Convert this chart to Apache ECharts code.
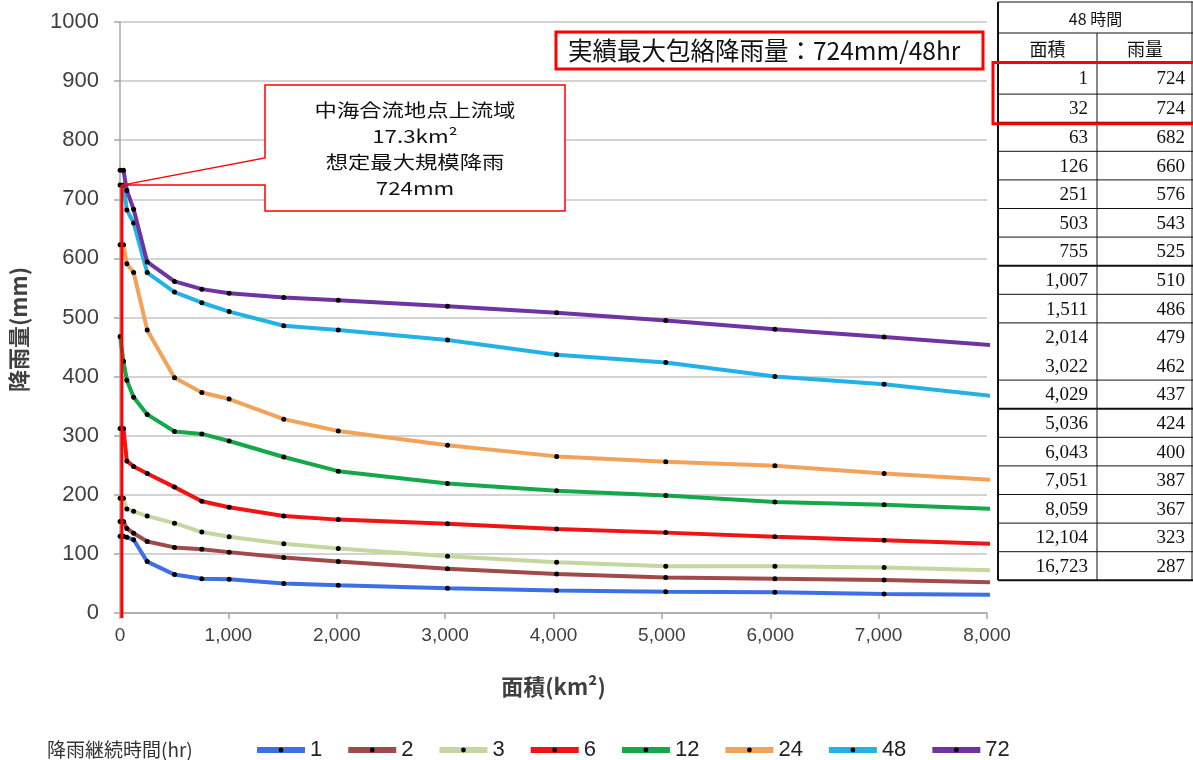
<!DOCTYPE html>
<html>
<head>
<meta charset="utf-8">
<script src="https://cdn.jsdelivr.net/npm/echarts@6/dist/echarts.min.js"></script>
<style>
  html, body { margin: 0; padding: 0; background: #fff; }
  #main { width: 1193px; height: 760px; }
</style>
</head>
<body>
<div id="main"></div>
<script>
// Catchment area (km2) at which each depth-area curve is sampled
const areas = [1, 32, 63, 126, 251, 503, 755, 1007, 1511, 2014, 3022, 4029, 5036, 6043, 7051, 8059];

// Rainfall depth (mm) per duration
const rain1  = [130, 130, 128, 124, 87, 65, 58, 57, 50, 47, 42, 38, 36, 35, 32, 31];
const rain2  = [155, 155, 143, 135, 121, 111, 108, 103, 94, 87, 75, 66, 60, 58, 56, 52];
const rain3  = [194, 194, 176, 172, 164, 152, 137, 129, 117, 109, 96, 86, 79, 79, 77, 72];
const rain6  = [312, 312, 257, 248, 236, 213, 189, 179, 164, 158, 151, 142, 136, 129, 123, 117];
const rain12 = [468, 426, 394, 365, 336, 307, 303, 291, 264, 240, 219, 207, 199, 188, 183, 176];
const rain24 = [623, 623, 591, 576, 479, 398, 373, 362, 328, 308, 284, 265, 256, 249, 236, 225];
const rain72 = [749, 749, 715, 683, 594, 561, 548, 541, 534, 529, 519, 508, 495, 480, 467, 453];

// 48-hour table (also drives the 48-hour curve)
const tableAreas  = [1, 32, 63, 126, 251, 503, 755, 1007, 1511, 2014, 3022, 4029, 5036, 6043, 7051, 8059, 12104, 16723];
const tableRain48 = [724, 724, 682, 660, 576, 543, 525, 510, 486, 479, 462, 437, 424, 400, 387, 367, 323, 287];

const durations = ['1', '2', '3', '6', '12', '24', '48', '72'];
const colors = ['#3d6fe6', '#a04a4a', '#c4d79e', '#f01414', '#14a84a', '#f3a25a', '#22b2e6', '#7033a2'];

// Design point of the upstream catchment
const pointArea = 17.3;
const pointRain = 724;

const xTicks = [0, 1000, 2000, 3000, 4000, 5000, 6000, 7000, 8000];

const curves = [rain1, rain2, rain3, rain6, rain12, rain24, null, rain72];

const chart = echarts.init(document.getElementById('main'));

const sans = "'Liberation Sans', 'Noto Sans CJK JP', sans-serif";
const cjk = "'Noto Sans CJK JP', 'Liberation Sans', sans-serif";
const serif = "'Liberation Serif', 'DejaVu Serif', serif";

const series = durations.map((d, i) => {
  const data = curves[i]
    ? areas.map((a, k) => [a, curves[i][k]])
    : tableAreas.map((a, k) => [a, tableRain48[k]]);
  return {
    name: d,
    type: 'line',
    data: data,
    symbol: 'circle',
    symbolSize: 5,
    showSymbol: true,
    clip: true,
    lineStyle: { color: colors[i], width: 4 },
    itemStyle: { color: '#000' },
    emphasis: { disabled: true },
    z: 2 + i
  };
});

chart.setOption({
  animation: false,
  grid: { left: 119, top: 22, width: 868, height: 591 },
  title: {
    text: '降雨継続時間(hr)',
    left: 42,
    top: 735,
    textStyle: { fontFamily: cjk, fontSize: 19, fontWeight: 'normal', color: '#333' }
  },
  legend: {
    left: 249,
    top: 734,
    itemWidth: 48,
    itemHeight: 6,
    itemGap: 23,
    lineStyle: { width: 6 },
    textStyle: { fontFamily: sans, fontSize: 22, color: '#222' },
    data: durations
  },
  xAxis: {
    type: 'value',
    min: 0,
    max: 8000,
    interval: 1000,
    name: '面積(km²)',
    nameLocation: 'middle',
    nameGap: 63,
    nameTextStyle: { fontFamily: cjk, fontSize: 22, fontWeight: 'bold', color: '#404040' },
    axisLine: { show: true, lineStyle: { color: '#a6a6a6', width: 1.5 } },
    axisTick: { show: true, length: 6, lineStyle: { color: '#a6a6a6', width: 1.5 } },
    axisLabel: {
      margin: 13,
      fontFamily: sans,
      fontSize: 19,
      color: '#404040',
      formatter: v => xTicks.includes(v) ? v.toLocaleString('en-US') : ''
    },
    splitLine: { show: false }
  },
  yAxis: {
    type: 'value',
    min: 0,
    max: 1000,
    interval: 100,
    name: '降雨量(mm)',
    nameLocation: 'middle',
    nameRotate: 90,
    nameGap: 90,
    nameTextStyle: { fontFamily: cjk, fontSize: 22, fontWeight: 'bold', color: '#404040', padding: [0, 24, 0, 0] },
    axisLine: { show: true, lineStyle: { color: '#a6a6a6', width: 1.5 } },
    axisTick: { show: true, length: 6, lineStyle: { color: '#a6a6a6', width: 1.5 } },
    axisLabel: { margin: 21, fontFamily: sans, fontSize: 22, color: '#404040', formatter: v => String(v) },
    splitLine: { show: true, lineStyle: { color: '#c4c4c4', width: 1.5 } }
  },
  series: series
});

// ---- annotations: design point call-out, envelope caption and 48-hour table ----
const tip = chart.convertToPixel({ gridIndex: 0 }, [pointArea, pointRain]);
const foot = chart.convertToPixel({ gridIndex: 0 }, [pointArea, 0]);

const box = { l: 265, t: 85, r: 565, b: 211, wedgeTop: 158 };

const graphics = [];

// vertical marker from the design point to the axis
graphics.push({
  type: 'line', z: 50,
  shape: { x1: tip[0], y1: tip[1], x2: foot[0], y2: foot[1] + 5 },
  style: { stroke: '#ff0000', lineWidth: 3 }
});

// call-out balloon
graphics.push({
  type: 'polygon', z: 49,
  shape: {
    points: [
      [box.l, box.t], [box.r, box.t], [box.r, box.b], [box.l, box.b],
      [box.l, tip[1]], [tip[0], tip[1]], [box.l, box.wedgeTop]
    ]
  },
  style: { fill: '#fff', stroke: '#ff0000', lineWidth: 1.5 }
});
graphics.push({
  type: 'text', z: 51,
  x: (box.l + box.r) / 2, y: (box.t + box.b) / 2 + 1,
  scaleX: 1.24,
  style: {
    text: '中海合流地点上流域\n' + pointArea + 'km²\n想定最大規模降雨\n' + pointRain + 'mm',
    fill: '#111', font: '18px ' + cjk, lineHeight: 26,
    align: 'center', verticalAlign: 'middle'
  }
});

// envelope caption
graphics.push({
  type: 'rect', z: 49,
  shape: { x: 556, y: 32, width: 427, height: 37 },
  style: { fill: '#fff', stroke: '#ff0000', lineWidth: 3 }
});
graphics.push({
  type: 'text', z: 51,
  x: 568, y: 51,
  style: {
    text: '実績最大包絡降雨量：' + Math.max(...tableRain48) + 'mm/48hr',
    fill: '#111', font: '24.5px ' + cjk, align: 'left', verticalAlign: 'middle'
  }
});

// 48-hour table
const tL = 998, tM = 1097, tR = 1193;
const headTop = 2, headMid = 33, headBot = 62.5;
const rowTop = 65.5, rowH = 28.6;
const rows = tableAreas.length;
const bound = k => (k === 0 ? headBot : rowTop + k * rowH);
const tBottom = bound(rows);
const thick = [2, 7, 12];
const skip = [10];

graphics.push({ type: 'rect', z: 40, shape: { x: tL, y: headTop, width: tR - tL + 5, height: tBottom - headTop },
  style: { fill: '#fff', stroke: null } });
graphics.push({ type: 'line', z: 41, shape: { x1: tL, y1: headTop, x2: tL, y2: tBottom }, style: { stroke: '#111', lineWidth: 2 } });
graphics.push({ type: 'line', z: 41, shape: { x1: tM, y1: headMid, x2: tM, y2: tBottom }, style: { stroke: '#111', lineWidth: 1 } });
graphics.push({ type: 'line', z: 41, shape: { x1: tR - 1, y1: headTop, x2: tR - 1, y2: tBottom }, style: { stroke: '#111', lineWidth: 1 } });
[headTop, headMid].forEach(y => graphics.push({
  type: 'line', z: 41, shape: { x1: tL, y1: y, x2: tR, y2: y }, style: { stroke: '#111', lineWidth: 1 }
}));
for (let k = 0; k <= rows; k++) {
  if (skip.includes(k)) continue;
  const y = bound(k);
  graphics.push({
    type: 'line', z: 41, shape: { x1: tL, y1: y, x2: tR, y2: y },
    style: { stroke: '#111', lineWidth: thick.includes(k) || k === rows ? 2 : 1 }
  });
}
graphics.push({ type: 'text', z: 42, x: (tL + tR) / 2, y: (headTop + headMid) / 2 + 1,
  style: { text: '48 時間', fill: '#111', font: '16px ' + cjk, align: 'center', verticalAlign: 'middle' } });
graphics.push({ type: 'text', z: 42, x: (tL + tM) / 2, y: (headMid + headBot) / 2 + 1,
  style: { text: '面積', fill: '#111', font: '18px ' + cjk, align: 'center', verticalAlign: 'middle' } });
graphics.push({ type: 'text', z: 42, x: (tM + tR) / 2, y: (headMid + headBot) / 2 + 1,
  style: { text: '雨量', fill: '#111', font: '18px ' + cjk, align: 'center', verticalAlign: 'middle' } });
for (let k = 0; k < rows; k++) {
  const cy = (bound(k) + bound(k + 1)) / 2 + 1;
  graphics.push({ type: 'text', z: 42, x: 1088, y: cy,
    style: { text: tableAreas[k].toLocaleString('en-US'), fill: '#111', font: '19px ' + serif, align: 'right', verticalAlign: 'middle' } });
  graphics.push({ type: 'text', z: 42, x: 1185, y: cy,
    style: { text: String(tableRain48[k]), fill: '#111', font: '19px ' + serif, align: 'right', verticalAlign: 'middle' } });
}
// highlight of the envelope rows
graphics.push({
  type: 'rect', z: 45,
  shape: { x: 993, y: headBot, width: 215, height: bound(2) - headBot + 1 },
  style: { fill: null, stroke: '#ff0000', lineWidth: 3 }
});

chart.setOption({ graphic: graphics });
</script>
</body>
</html>
